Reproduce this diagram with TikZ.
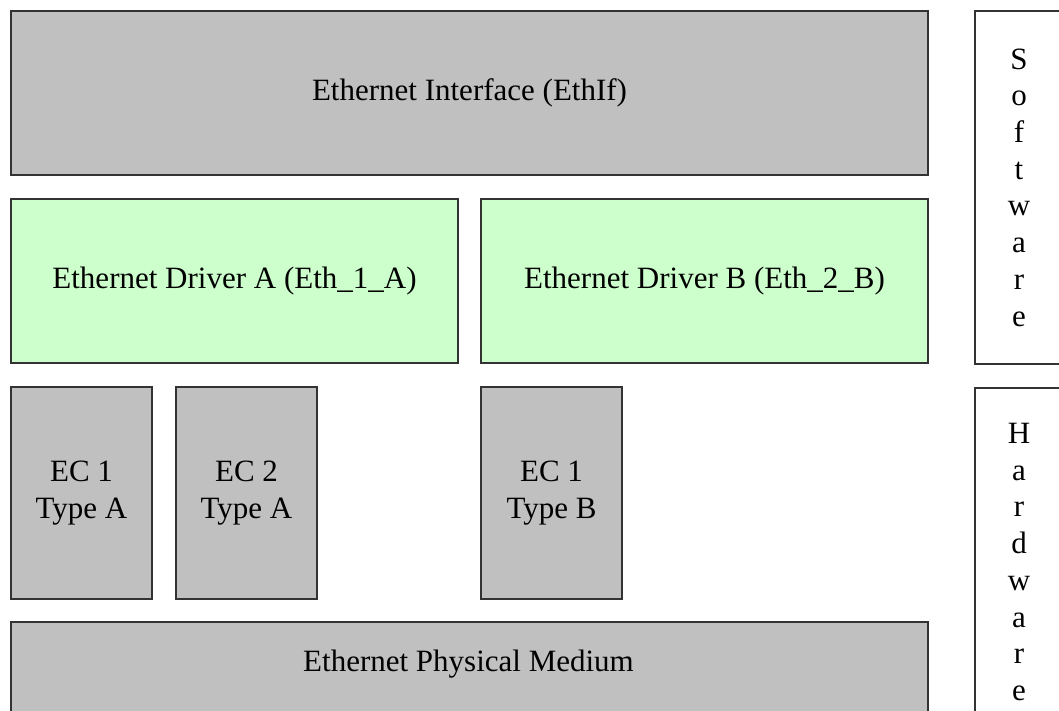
\documentclass[tikz,border=0pt]{standalone}
\usepackage{fontspec}
\setmainfont{Liberation Serif}
\definecolor{gris}{HTML}{C0C0C0}
\definecolor{verde}{HTML}{CCFFCC}
\definecolor{borde}{HTML}{333333}
\begin{document}
\begin{tikzpicture}[x=1pt,y=-1pt,
  letra/.style={font=\fontsize{31}{36.7}\selectfont},
  capa/.style={draw=borde, line width=2pt, anchor=north west, inner sep=0pt, align=center, letra},
  cajagris/.style={capa, fill=gris},
  cajaverde/.style={capa, fill=verde},
  cajablanca/.style={capa, fill=white}]
% Marco
\useasboundingbox (0,0) rectangle (1059,711);
\clip (0,0) rectangle (1059,711);
% Capa superior
\node[cajagris, minimum width=917pt, minimum height=164pt] (ethif) at (10,10) {Ethernet Interface (EthIf)};
% Controladores
\node[cajaverde, minimum width=447pt, minimum height=164pt] (drva) at (10,198) {Ethernet Driver A (Eth\_1\_A)};
\node[cajaverde, minimum width=447pt, minimum height=164pt] (drvb) at (480,198) {Ethernet Driver B (Eth\_2\_B)};
% Controladores de hardware
\node[cajagris, minimum width=141pt, minimum height=212pt] (ec1a) at (10,386) {EC 1\\Type A};
\node[cajagris, minimum width=141pt, minimum height=212pt] (ec2a) at (175,386) {EC 2\\Type A};
\node[cajagris, minimum width=141pt, minimum height=212pt] (ec1b) at (480,386) {EC 1\\Type B};
% Medio fisico
\node[cajagris, minimum width=917pt, minimum height=130pt] (medio) at (10,621) {};
\node[letra] (mediotexto) at (468.5,664) {Ethernet Physical Medium};
% Software y Hardware
\node[cajablanca, minimum width=88pt, minimum height=353pt] (sw) at (974,10) {S\\o\\f\\t\\w\\a\\r\\e};
\node[cajablanca, minimum width=88pt, minimum height=348pt] (hw) at (974,387) {H\\a\\r\\d\\w\\a\\r\\e};
\end{tikzpicture}
\end{document}
